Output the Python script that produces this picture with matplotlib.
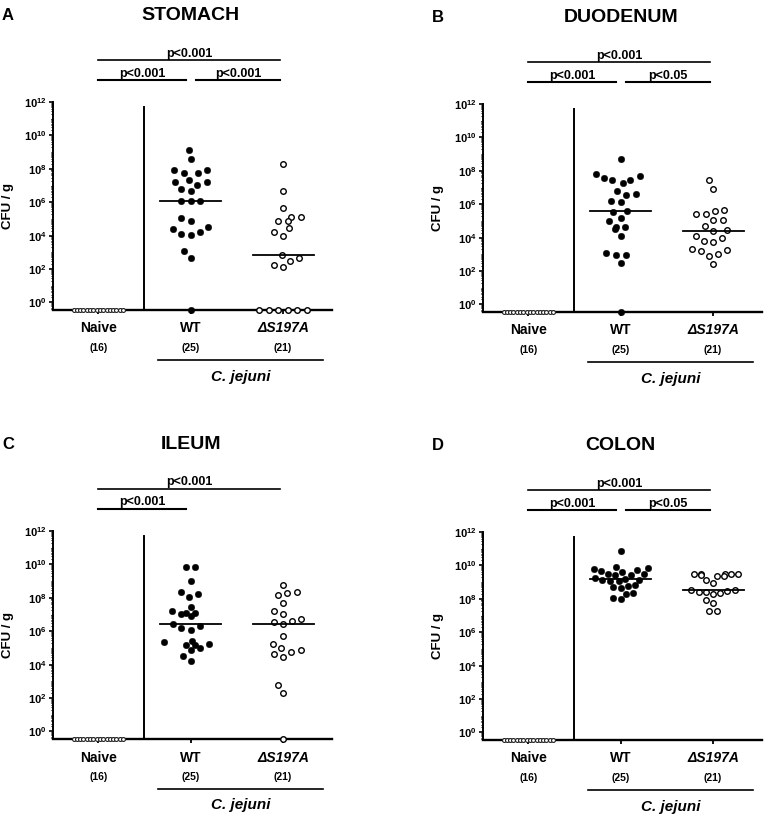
import numpy as np
import matplotlib
matplotlib.use('Agg')
import matplotlib.pyplot as plt
from matplotlib.transforms import blended_transform_factory
from matplotlib.ticker import FixedLocator, FuncFormatter, NullFormatter

plt.rcParams['font.family'] = ['Liberation Sans', 'DejaVu Sans']
plt.rcParams['mathtext.fontset'] = 'custom'
plt.rcParams['mathtext.bf'] = 'Liberation Sans:bold'
plt.rcParams['mathtext.rm'] = 'Liberation Sans'
plt.rcParams['mathtext.it'] = 'Liberation Sans:italic'

# ---------------- data (log10 CFU/g; None = below detection) ----------------
groups = ['Naive', 'WT', '\u0394S197A']
group_n = ['(16)', '(25)', '(21)']

naive_all = [None] * 16

stomach_wt = [9.14, 8.58, 7.90, 7.74, 7.74, 7.90, 7.20, 7.36, 7.20, 6.80, 6.66, 7.06,
              6.10, 6.08, 6.10, 5.04, 4.90, 4.50, 4.20, 4.04, 4.10, 4.40, 3.06, 2.66, None]
stomach_mut = [8.30, 6.70, 5.64, 5.10, 4.90, 4.90, 5.14, 4.46, 4.20, 4.00, 2.86, 2.64,
               2.50, 2.24, 2.10, None, None, None, None, None, None]

duodenum_wt = [8.70, 7.80, 7.58, 7.48, 7.28, 7.48, 7.68, 6.58, 6.80, 6.60, 6.12, 6.18,
               5.60, 5.54, 5.20, 5.00, 4.54, 4.64, 4.64, 4.08, 2.98, 3.10, 2.98, 2.50, None]
duodenum_mut = [7.44, 6.94, 5.60, 5.40, 5.64, 5.44, 5.04, 5.08, 4.68, 4.44, 4.40, 4.12,
                3.96, 3.74, 3.80, 3.34, 3.20, 2.92, 3.04, 3.28, 2.40]

ileum_wt = [9.86, 9.86, 8.99, 8.37, 8.04, 8.20, 7.48, 7.12, 7.05, 6.90, 7.12, 7.20,
            6.29, 6.10, 6.21, 6.45, 5.36, 5.16, 5.02, 4.86, 5.16, 5.22, 5.42, 4.50, 4.19]
ileum_mut = [8.79, 8.37, 8.27, 8.18, 7.70, 7.24, 7.05, 6.75, 6.61, 6.41, 6.57, 5.70,
             5.26, 5.02, 4.73, 4.46, 4.62, 4.86, 2.76, 2.29, None]

colon_wt = [10.89, 9.93, 9.83, 9.79, 9.73, 9.67, 9.63, 9.50, 9.47, 9.45, 9.43, 9.23,
            9.20, 9.15, 9.12, 9.07, 9.05, 8.80, 8.77, 8.70, 8.63, 8.35, 8.30, 8.05, 7.98]
colon_mut = [9.51, 9.51, 9.50, 9.49, 9.48, 9.45, 9.37, 9.35, 9.13, 8.97, 8.53, 8.50,
             8.45, 8.40, 8.38, 8.35, 8.30, 7.94, 7.75, 7.25, 7.25]

stomach_p = [('p<0.001', 0.0, 1.97, 'top'), ('p<0.001', 0.0, 0.95, 'low'), ('p<0.001', 1.06, 1.97, 'low')]
duodenum_p = [('p<0.001', 0.0, 1.97, 'top'), ('p<0.001', 0.0, 0.95, 'low'), ('p<0.05', 1.06, 1.97, 'low')]
ileum_p = [('p<0.001', 0.0, 1.97, 'top'), ('p<0.001', 0.0, 0.95, 'low')]
colon_p = [('p<0.001', 0.0, 1.97, 'top'), ('p<0.001', 0.0, 0.95, 'low'), ('p<0.05', 1.06, 1.97, 'low')]

# ---------------- layout ----------------
W, H = 765, 816
AX_W, AX_H = 279, 208
LOG_MIN, LOG_MAX = -0.45, 12.0
ND_LEVEL = LOG_MIN  # undetected samples sit on the x axis
XMIN, XMAX = -0.49, 2.53
PX_PER_UNIT = AX_W / (XMAX - XMIN)
PX_PER_DEC = AX_H / (LOG_MAX - LOG_MIN)

panels = [
    dict(letter='A', title='STOMACH', left=53, top=102, data=[naive_all, stomach_wt, stomach_mut], p=stomach_p, d=9.5),
    dict(letter='B', title='DUODENUM', left=483, top=104, data=[naive_all, duodenum_wt, duodenum_mut], p=duodenum_p, d=9.5),
    dict(letter='C', title='ILEUM', left=53, top=531, data=[naive_all, ileum_wt, ileum_mut], p=ileum_p, d=9.5),
    dict(letter='D', title='COLON', left=483, top=532, data=[naive_all, colon_wt, colon_mut], p=colon_p, d=7.3),
]


def swarm(ypx, d):
    ypx = np.asarray(ypx, float)
    xs = np.zeros(len(ypx))
    placed = []
    for i in np.argsort(ypx, kind='stable'):
        y = ypx[i]
        near = [(px, py) for px, py in placed if abs(py - y) < d]
        cands = [0.0]
        for px, py in near:
            dx = np.sqrt(d * d - (py - y) ** 2)
            cands += [px + dx, px - dx]
        cands = sorted(cands, key=lambda c: (abs(c), c))
        for c in cands:
            if all((c - px) ** 2 + (y - py) ** 2 >= d * d - 1e-6 for px, py in near):
                xs[i] = c
                break
        placed.append((xs[i], y))
    # centre rows of identical values
    for v in np.unique(ypx):
        m = ypx == v
        if m.sum() > 1:
            xs[m] -= xs[m].mean()
    return xs


fig = plt.figure(figsize=(W / 100, H / 100), dpi=100)


def fy(p):
    return 1 - p / H


for P in panels:
    left, top = P['left'], P['top']
    bottom = top + AX_H
    ax = fig.add_axes([left / W, fy(bottom), AX_W / W, AX_H / H])
    ax.set_yscale('log')
    ax.set_ylim(10 ** LOG_MIN, 10 ** LOG_MAX)
    ax.set_xlim(XMIN, XMAX)
    blend = blended_transform_factory(ax.transData, fig.transFigure)

    for gi, vals in enumerate(P['data']):
        logs = np.array([ND_LEVEL if v is None else v for v in vals], float)
        if gi == 0:
            off = (np.arange(len(logs)) - (len(logs) - 1) / 2) * 3.3
            ax.plot(gi + off / PX_PER_UNIT, 10 ** logs, 'o', ms=2.8, mfc='white', mec='#222222',
                    mew=0.8, clip_on=False, zorder=3)
            continue
        off = swarm(logs * PX_PER_DEC, P['d'])
        if gi == 1:
            ax.plot(gi + off / PX_PER_UNIT, 10 ** logs, 'o', ms=4.7, mfc='black', mec='black',
                    mew=0.3, clip_on=False, zorder=3)
        else:
            ax.plot(gi + off / PX_PER_UNIT, 10 ** logs, 'o', ms=4.0, mfc='white', mec='black',
                    mew=1.0, clip_on=False, zorder=3)
        med = np.median(logs)
        ax.plot([gi - 0.33, gi + 0.33], [10 ** med, 10 ** med], color='black', lw=1.3, zorder=4)

    # separator
    ax.plot([0.5, 0.5], [10 ** LOG_MIN, 10 ** 11.7], color='black', lw=1.4, zorder=2)

    # axes styling
    for s in ['top', 'right']:
        ax.spines[s].set_visible(False)
    ax.spines['left'].set_linewidth(1.4)
    ax.spines['bottom'].set_linewidth(1.7)
    ax.yaxis.set_major_locator(FixedLocator([10.0 ** k for k in range(0, 13, 2)]))
    minors = [m * 10.0 ** k for k in range(-1, 12) for m in range(1, 10)]
    minors = [v for v in minors if 10 ** LOG_MIN < v < 10 ** LOG_MAX and
              not (abs(np.log10(v) - round(np.log10(v))) < 1e-9 and round(np.log10(v)) % 2 == 0)]
    ax.yaxis.set_minor_locator(FixedLocator(minors))
    ax.yaxis.set_major_formatter(FuncFormatter(lambda v, pos: r'$\mathbf{10^{%d}}$' % round(np.log10(v))))
    ax.yaxis.set_minor_formatter(NullFormatter())
    ax.tick_params(axis='y', which='major', length=3, width=1.2, pad=1.5, labelsize=8)
    ax.tick_params(axis='y', which='minor', length=1.8, width=0.7)
    ax.set_xticks([0, 1, 2])
    ax.set_xticklabels([])
    ax.tick_params(axis='x', length=3, width=1.3)

    # group labels
    for gi, (g, n) in enumerate(zip(groups, group_n)):
        ax.text(gi, fy(bottom + 22.5), g, transform=blend, ha='center', va='baseline',
                fontsize=10, weight='bold', style='italic' if gi == 2 else 'normal')
        ax.text(gi, fy(bottom + 41), n, transform=blend, ha='center', va='baseline',
                fontsize=7.5, weight='bold')
    ax.plot([0.65, 2.43], [fy(bottom + 50), fy(bottom + 50)], transform=blend, color='black',
            lw=1.2, clip_on=False)
    ax.text(1.54, fy(bottom + 70.5), 'C. jejuni', transform=blend, ha='center', va='baseline',
            fontsize=11, weight='bold', style='italic')

    # significance bars
    for txt, x0, x1, lvl in P['p']:
        yb = top - 42 if lvl == 'top' else top - 22
        ax.plot([x0, x1], [fy(yb), fy(yb)], transform=blend, color='black',
                lw=1.2 if lvl == 'top' else 1.5, clip_on=False)
        ax.text((x0 + x1) / 2, fy(yb - 3.5), txt, transform=blend, ha='center', va='baseline',
                fontsize=9, weight='bold')

    # titles
    ax.text(1, fy(top - 82), P['title'], transform=blend, ha='center', va='baseline',
            fontsize=14, weight='bold')
    fig.text((left - 51) / W, fy(top - 82), P['letter'], ha='left', va='baseline',
             fontsize=12, weight='bold')
    fig.text((left - 45) / W, fy(top + AX_H / 2), 'CFU / g', rotation=90, ha='center',
             va='center', fontsize=9.5, weight='bold')

fig.savefig('out.png', dpi=100)
